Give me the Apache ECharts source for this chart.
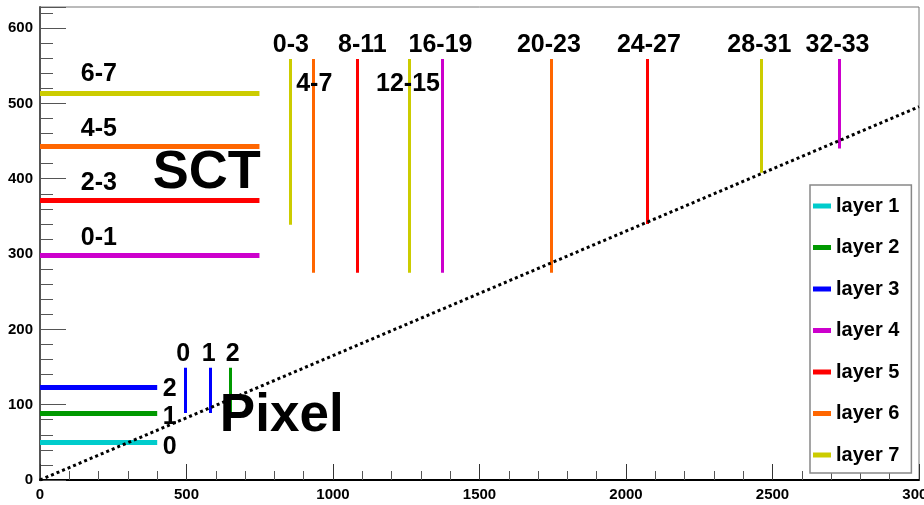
<!DOCTYPE html>
<html>
<head>
<meta charset="utf-8">
<script src="https://cdn.jsdelivr.net/npm/echarts@6/dist/echarts.min.js"></script>
<style>
  html, body { margin: 0; padding: 0; background: #fff; }
  #chart { width: 924px; height: 505px; }
</style>
</head>
<body>
<div id="chart"></div>
<script>
// Layer names and colours
const layerNames = ['layer 1', 'layer 2', 'layer 3', 'layer 4', 'layer 5', 'layer 6', 'layer 7'];
const layerColors = ['#00cccc', '#009900', '#0000ff', '#cc00cc', '#ff0000', '#ff6600', '#cccc00'];

// Barrels: radius (y) and half length (x end)
const pixelBarrelR = [50.5, 88.5, 122.5];
const pixelBarrelLayer = [1, 2, 3];
const pixelBarrelZ = 400;
const sctBarrelR = [299, 371, 443, 514];
const sctBarrelLayer = [4, 5, 6, 7];
const sctBarrelZ = 749;

// Discs: z position (x) and radial extent (y)
const pixelDiscZ = [495, 580, 650];
const pixelDiscLayer = [3, 3, 2];
const pixelDiscRmin = 89;
const pixelDiscRmax = 149;
const sctDiscZ = [853, 934, 1082, 1260, 1374, 1744, 2071, 2463, 2728];
const sctDiscLayer = [7, 6, 5, 7, 4, 6, 5, 7, 4];
const sctDiscRmin = [339, 275, 275, 275, 275, 275, 340, 408, 440];
const sctDiscRmax = 559;

// eta = 2.5 line
const etaLine = [[0, 0], [3000, 495.6]];

// Text annotations: [text, x, y, size, weight]
const annotations = [
    ['6-7', 201, 539, 25, 'bold'],
    ['4-5', 201, 466, 25, 'bold'],
    ['2-3', 201, 394, 25, 'bold'],
    ['0-1', 201, 321, 25, 'bold'],
    ['SCT', 569, 408, 54, 'bold'],
    ['Pixel', 825, 84, 53, 'bold'],
    ['2', 443, 121, 25, 'bold'],
    ['1', 443, 84, 25, 'bold'],
    ['0', 443, 44, 25, 'bold'],
    ['0', 489, 167, 25, 'bold'],
    ['1', 576, 167, 25, 'bold'],
    ['2', 658, 167, 25, 'bold'],
    ['0-3', 856, 578, 25, 'bold'],
    ['8-11', 1100, 578, 25, 'bold'],
    ['16-19', 1367, 578, 25, 'bold'],
    ['20-23', 1737, 578, 25, 'bold'],
    ['24-27', 2078, 578, 25, 'bold'],
    ['28-31', 2455, 578, 25, 'bold'],
    ['32-33', 2722, 578, 25, 'bold'],
    ['4-7', 936, 525, 25, 'bold'],
    ['12-15', 1256, 525, 25, 'bold']
];

const mainFont = "'Liberation Sans', Arial, sans-serif";

// Collect segments per layer
const segments = layerNames.map(() => []);
pixelBarrelR.forEach((r, i) => {
    segments[pixelBarrelLayer[i] - 1].push({ coords: [[0, r], [pixelBarrelZ, r]], lineStyle: { width: 5 } });
});
sctBarrelR.forEach((r, i) => {
    segments[sctBarrelLayer[i] - 1].push({ coords: [[0, r], [sctBarrelZ, r]], lineStyle: { width: 5 } });
});
pixelDiscZ.forEach((z, i) => {
    segments[pixelDiscLayer[i] - 1].push({ coords: [[z, pixelDiscRmin], [z, pixelDiscRmax]], lineStyle: { width: 3 } });
});
sctDiscZ.forEach((z, i) => {
    segments[sctDiscLayer[i] - 1].push({ coords: [[z, sctDiscRmin[i]], [z, sctDiscRmax]], lineStyle: { width: 3 } });
});

const layerSeries = layerNames.map((name, i) => ({
    name: name,
    type: 'lines',
    coordinateSystem: 'cartesian2d',
    polyline: false,
    silent: true,
    z: 2,
    itemStyle: { color: layerColors[i] },
    lineStyle: { color: layerColors[i], opacity: 1, width: 3 },
    data: segments[i]
}));

const chart = echarts.init(document.getElementById('chart'));

chart.setOption({
    animation: false,
    backgroundColor: '#fff',
    grid: {
        left: 40, right: 5, top: 7, bottom: 25,
        containLabel: false,
        outerBoundsMode: 'none',
        show: true, borderColor: '#777', borderWidth: 1
    },
    xAxis: {
        type: 'value',
        min: 0, max: 3000, interval: 500,
        axisLine: { lineStyle: { color: '#000', width: 2 } },
        axisTick: { inside: true, length: 16, lineStyle: { color: '#333' } },
        minorTick: { show: true, splitNumber: 5, length: 9, lineStyle: { color: '#555' } },
        splitLine: { show: false },
        axisLabel: {
            color: '#000', fontSize: 15, fontWeight: 'bold', fontFamily: mainFont, margin: 7,
            formatter: v => String(v)
        }
    },
    yAxis: {
        type: 'value',
        min: 0, max: 628, interval: 100,
        axisLine: { lineStyle: { color: '#555', width: 2 } },
        axisTick: { inside: true, length: 26, lineStyle: { color: '#555' } },
        minorTick: { show: true, splitNumber: 5, length: 13, lineStyle: { color: '#555' } },
        splitLine: { show: false },
        axisLabel: {
            color: '#000', fontSize: 15, fontWeight: 'bold', fontFamily: mainFont, margin: 7,
            formatter: v => (v % 100 === 0 ? String(v) : '')
        }
    },
    legend: {
        orient: 'vertical',
        left: 810, top: 185,
        backgroundColor: '#fff',
        borderColor: '#888', borderWidth: 1.5,
        padding: [9, 12, 6, 3],
        itemGap: 17.5,
        itemWidth: 18, itemHeight: 5,
        icon: 'rect',
        textStyle: { color: '#000', fontSize: 20, fontWeight: 'bold', fontFamily: mainFont, lineHeight: 24 },
        data: layerNames.map((n, i) => ({ name: n, itemStyle: { color: layerColors[i], borderWidth: 0 } }))
    },
    series: layerSeries.concat([
        {
            name: 'eta',
            type: 'line',
            data: etaLine,
            showSymbol: false,
            silent: true,
            z: 3,
            lineStyle: { color: '#000', width: 3, type: [3, 3] }
        },
        {
            name: 'labels',
            type: 'scatter',
            symbolSize: 0,
            silent: true,
            z: 4,
            itemStyle: { opacity: 1 },
            data: annotations.map(a => ({
                value: [a[1], a[2]],
                name: a[0],
                label: {
                    show: true,
                    position: 'inside',
                    formatter: a[0],
                    color: '#000',
                    fontSize: a[3],
                    fontWeight: a[4],
                    fontFamily: mainFont
                }
            }))
        }
    ])
});
</script>
</body>
</html>
